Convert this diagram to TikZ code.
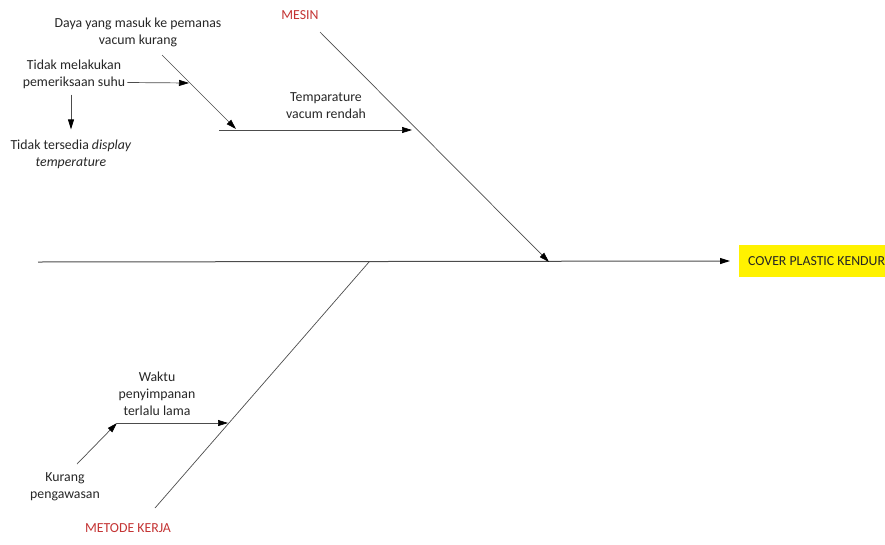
\documentclass[tikz,border=0pt]{standalone}
\usepackage{fontspec}
\setmainfont{Carlito}
\usetikzlibrary{arrows.meta, positioning}
\definecolor{catred}{RGB}{196,52,52}

\begin{document}
\begin{tikzpicture}[x=1pt, y=-1pt,
        lbl/.style={align=center, inner sep=0pt, font=\fontsize{13.8}{17}\selectfont, text=black!85},
        cat/.style={lbl, text=catred},
        bone/.style={draw=black!70, line width=0.7pt},
        arr/.style={bone, -{Triangle[length=10pt, width=6pt, color=black]}}
      ]
        \useasboundingbox (0,0) rectangle (885,544);
        \clip (0,0) rectangle (885,544);
        % head and spine
        \node[lbl, fill=yellow, anchor=west, minimum height=32pt, inner xsep=9pt] (effect) at (739,261) {COVER PLASTIC KENDUR};
        \coordinate (tail) at (38,262);
        \draw[arr, line width=1pt] (tail) -- ([xshift=-9pt]effect.west);
        % MESIN
        \node[cat] (mesin) at (300,15) {MESIN};
        \coordinate (mesinTop) at (320,32);
        \coordinate (mesinHit) at (549,262);
        \draw[arr] (mesinTop) -- (mesinHit);
        \node[lbl] (temp) at (326,106) {Temparature\\vacum rendah};
        \coordinate (tempStart) at (219,130);
        \coordinate (tempEnd) at (412,130);
        \draw[arr] (tempStart) -- (tempEnd);
        \node[lbl] (daya) at (138,32) {Daya yang masuk ke pemanas\\vacum kurang};
        \coordinate (dayaTop) at (162,55);
        \coordinate (dayaHit) at (236,129);
        \draw[arr] (dayaTop) -- (dayaHit);
        \node[lbl] (periksa) at (74,74) {Tidak melakukan\\pemeriksaan suhu};
        \coordinate (periksaHit) at (189,83);
        \draw[arr] ([yshift=-8.5pt]periksa.east) ++(2,0) -- (periksaHit);
        \node[lbl] (display) at (71,154) {Tidak tersedia \textit{display}\\\textit{temperature}};
        \draw[arr] ([yshift=-6pt]periksa.south -| display.north) -- ([yshift=10pt]display.north);
        % METODE KERJA
        \node[cat] (metode) at (128,528) {METODE KERJA};
        \coordinate (metodeBot) at (155,508);
        \coordinate (metodeTop) at (369,262);
        \draw[bone] (metodeBot) -- (metodeTop);
        \node[lbl] (waktu) at (157,394) {Waktu\\penyimpanan\\terlalu lama};
        \coordinate (waktuStart) at (117,423);
        \coordinate (waktuEnd) at (228,423);
        \draw[arr] (waktuStart) -- (waktuEnd);
        \node[lbl] (awas) at (65,487) {Kurang\\pengawasan};
        \coordinate (awasStart) at (77,464);
        \draw[arr] (awasStart) -- (waktuStart);
      \end{tikzpicture}
\end{document}
